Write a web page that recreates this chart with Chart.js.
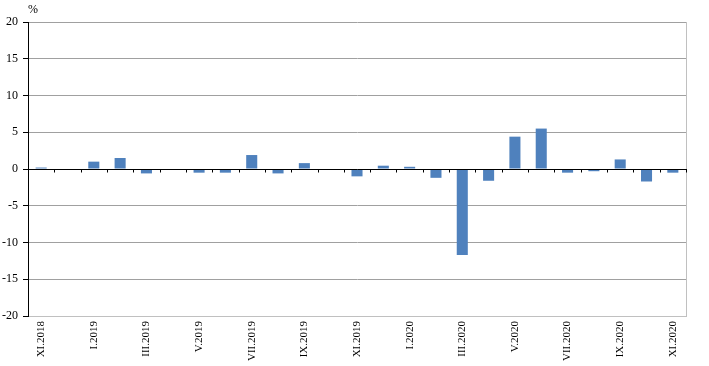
<!DOCTYPE html>
<html>
<head>
<meta charset="utf-8">
<script src="https://cdn.jsdelivr.net/npm/chart.js@4.4.0/dist/chart.umd.min.js"></script>
<style>
  body { margin: 0; background: #fff; }
  #wrap { width: 709px; height: 366px; }
</style>
</head>
<body>
<div id="wrap"><canvas id="grafico"></canvas></div>
<script>
// Meses (XI.2018 - XI.2020)
const categorias = [
  'XI.2018', 'XII.2018', 'I.2019', 'II.2019', 'III.2019', 'IV.2019', 'V.2019',
  'VI.2019', 'VII.2019', 'VIII.2019', 'IX.2019', 'X.2019', 'XI.2019', 'XII.2019',
  'I.2020', 'II.2020', 'III.2020', 'IV.2020', 'V.2020', 'VI.2020', 'VII.2020',
  'VIII.2020', 'IX.2020', 'X.2020', 'XI.2020'
];

// Variação mensal, %
const valores = [
  0.2, 0, 1.0, 1.5, -0.6, 0, -0.5, -0.5, 1.9, -0.6, 0.8, 0, -1.0,
  0.45, 0.3, -1.2, -11.7, -1.6, 4.4, 5.5, -0.5, -0.3, 1.3, -1.7, -0.5
];

// Eixo Y
const yMin = -20;
const yMax = 20;
const yPasso = 5;

const fonteSerif = '"Liberation Serif", "Times New Roman", serif';

// linha do zero, marcas e borda direita
const eixoPlugin = {
  id: 'eixoZero',
  afterDatasetsDraw(chart) {
    const { ctx, chartArea: a, scales: { x, y } } = chart;
    ctx.save();
    ctx.lineWidth = 1;
    ctx.strokeStyle = '#c0c0c0';
    ctx.beginPath();
    ctx.moveTo(Math.round(a.right) + 0.5, a.top);
    ctx.lineTo(Math.round(a.right) + 0.5, a.bottom);
    ctx.stroke();

    const y0 = Math.round(y.getPixelForValue(0)) + 0.5;
    ctx.strokeStyle = '#000';
    ctx.beginPath();
    ctx.moveTo(a.left, y0);
    ctx.lineTo(a.right + 1, y0);
    for (let i = 0; i <= categorias.length; i++) {
      const px = Math.round(x.getPixelForValue(i - 0.5)) + 0.5;
      ctx.moveTo(px, y0);
      ctx.lineTo(px, y0 + 3);
    }
    ctx.stroke();

    ctx.fillStyle = '#000';
    ctx.font = '12px ' + fonteSerif;
    ctx.textBaseline = 'bottom';
    ctx.textAlign = 'left';
    ctx.fillText('%', a.left, a.top - 6);
    ctx.restore();
  }
};

new Chart(document.getElementById('grafico'), {
  type: 'bar',
  data: {
    labels: categorias,
    datasets: [{
      data: valores,
      backgroundColor: '#4f81bd',
      barPercentage: 0.42,
      categoryPercentage: 1
    }]
  },
  options: {
    responsive: true,
    maintainAspectRatio: false,
    animation: false,
    layout: { padding: { top: 22, right: 23, left: 0, bottom: 0 } },
    plugins: { legend: { display: false }, tooltip: { enabled: false } },
    scales: {
      x: {
        grid: { display: false, drawTicks: false },
        border: { display: true, color: '#c0c0c0' },
        ticks: {
          autoSkip: false,
          minRotation: 90,
          maxRotation: 90,
          padding: 5,
          color: '#000',
          font: { family: fonteSerif, size: 11 },
          callback: (v, i) => (i % 2 === 0 ? categorias[i] : '')
        },
        afterFit: (s) => { s.height = 50; }
      },
      y: {
        min: yMin,
        max: yMax,
        grid: { color: '#a0a0a0', tickColor: '#000', tickLength: 5 },
        border: { color: '#000' },
        ticks: {
          stepSize: yPasso,
          padding: 5,
          color: '#000',
          font: { family: fonteSerif, size: 12 }
        },
        afterFit: (s) => { s.width = 28; }
      }
    }
  },
  plugins: [eixoPlugin]
});
</script>
</body>
</html>
